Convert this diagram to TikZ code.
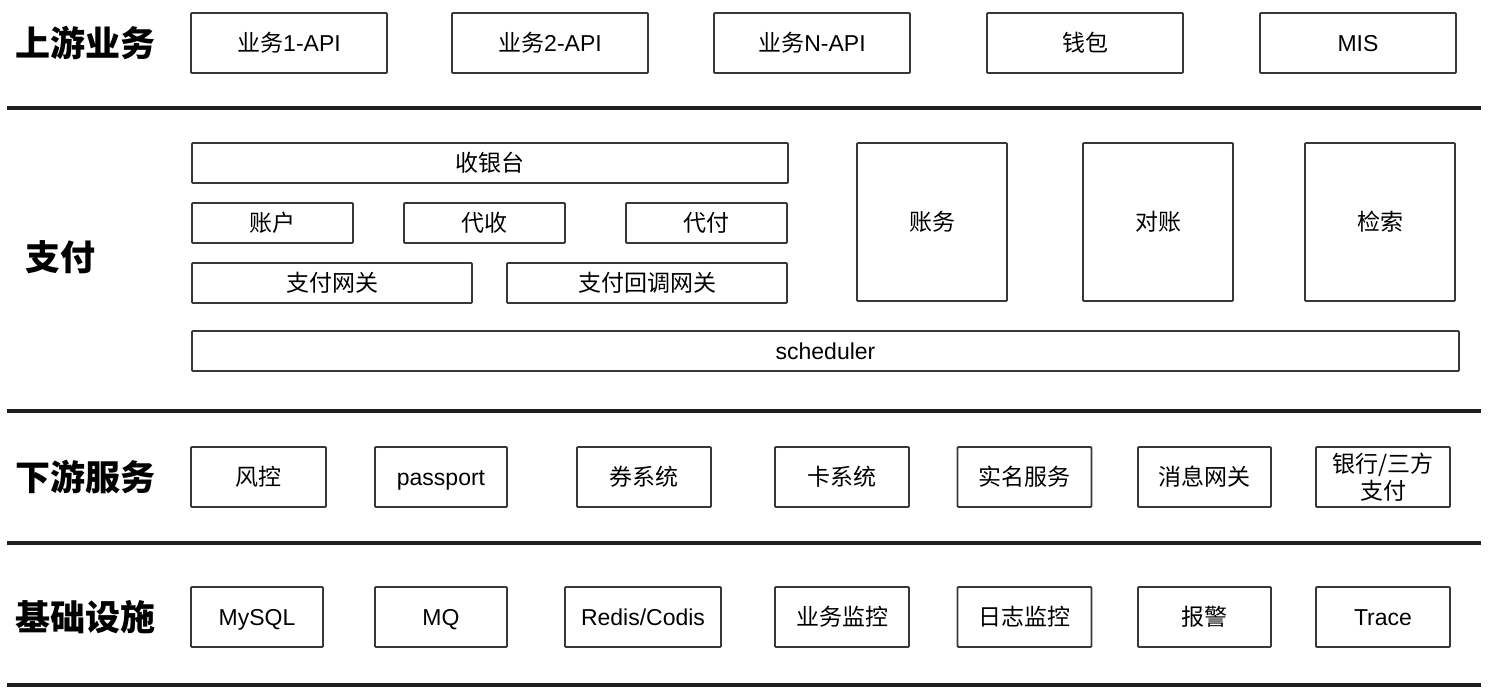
\documentclass[tikz,border=0pt]{standalone}
\usepackage{fontspec}
\setmainfont{Liberation Sans}
\newfontfamily\cjk{Noto Sans CJK SC}
\newcommand{\zhtext}[1]{{\cjk #1}}
\begin{document}
\begin{tikzpicture}[x=1pt, y=-1pt,
    frame/.style={draw=black!78, line width=1.8pt, rounded corners=1pt, inner sep=0pt, minimum height=60pt, font={\fontsize{23}{28}\selectfont}},
    box/.style={frame, text height=18pt, text depth=1pt},
    thin box/.style={box, minimum height=40pt},
    layer/.style={font={\cjk\bfseries\fontsize{35}{40}\selectfont}},
    sep/.style={line width=4pt, color=black!88}]
    \useasboundingbox (0,0) rectangle (1492,700);

    % layer titles
    \node[layer] (up)    at (86,43)  {上游业务};
    \node[layer] (pay)   at (60,257) {支付};
    \node[layer] (down)  at (86,477) {下游服务};
    \node[layer] (infra) at (86,617) {基础设施};

    % separators
    \draw[sep] (7,108) -- (1481,108);
    \draw[sep] (7,411) -- (1481,411);
    \draw[sep] (7,543) -- (1481,543);
    \draw[sep] (7,685) -- (1481,685);

    % upstream
    \node[box, minimum width=196pt] (api1)   at (289,43)  {\zhtext{业务}1-API};
    \node[box, minimum width=196pt] (api2)   at (550,43)  {\zhtext{业务}2-API};
    \node[box, minimum width=196pt] (apin)   at (812,43)  {\zhtext{业务}N-API};
    \node[box, minimum width=196pt] (wallet) at (1085,43) {\zhtext{钱包}};
    \node[box, minimum width=196pt] (mis)    at (1358,43) {MIS};

    % payment
    \node[thin box, minimum width=596pt] (cashier) at (490,163)   {\zhtext{收银台}};
    \node[thin box, minimum width=161pt] (account) at (272.5,223) {\zhtext{账户}};
    \node[thin box, minimum width=161pt] (collect) at (484.5,223) {\zhtext{代收}};
    \node[thin box, minimum width=161pt] (payout)  at (706.5,223) {\zhtext{代付}};
    \node[thin box, minimum width=280pt] (gateway) at (332,283)   {\zhtext{支付网关}};
    \node[thin box, minimum width=280pt] (callback) at (647,283)  {\zhtext{支付回调网关}};
    \node[box, minimum width=150pt, minimum height=158pt] (ledger)    at (932,222)  {\zhtext{账务}};
    \node[box, minimum width=150pt, minimum height=158pt] (reconcile) at (1158,222) {\zhtext{对账}};
    \node[box, minimum width=150pt, minimum height=158pt] (search)    at (1380,222) {\zhtext{检索}};
    \node[thin box, minimum width=1267pt] (scheduler) at (825.5,351) {scheduler};

    % downstream
    \node[box, minimum width=135pt] (risk)     at (258.5,477)  {\zhtext{风控}};
    \node[box, minimum width=132pt] (passport) at (441,477)    {passport};
    \node[box, minimum width=134pt] (coupon)   at (644,477)    {\zhtext{券系统}};
    \node[box, minimum width=134pt] (card)     at (842,477)    {\zhtext{卡系统}};
    \node[box, minimum width=134pt] (realname) at (1024.5,477) {\zhtext{实名服务}};
    \node[box, minimum width=133pt] (msg)      at (1204.5,477) {\zhtext{消息网关}};
    \node[frame, minimum width=134pt, align=center, font={\cjk\fontsize{23}{27}\selectfont}] (bank) at (1383,477) {银行/三方\\支付};

    % infrastructure
    \node[box, minimum width=132pt] (mysql)  at (257,617)    {MySQL};
    \node[box, minimum width=132pt] (mq)     at (441,617)    {MQ};
    \node[box, minimum width=156pt] (redis)  at (643,617)    {Redis/Codis};
    \node[box, minimum width=134pt] (bizmon) at (842,617)    {\zhtext{业务监控}};
    \node[box, minimum width=134pt] (logmon) at (1024.5,617) {\zhtext{日志监控}};
    \node[box, minimum width=133pt] (alarm)  at (1204.5,617) {\zhtext{报警}};
    \node[box, minimum width=134pt] (trace)  at (1383,617)   {Trace};
\end{tikzpicture}
\end{document}
